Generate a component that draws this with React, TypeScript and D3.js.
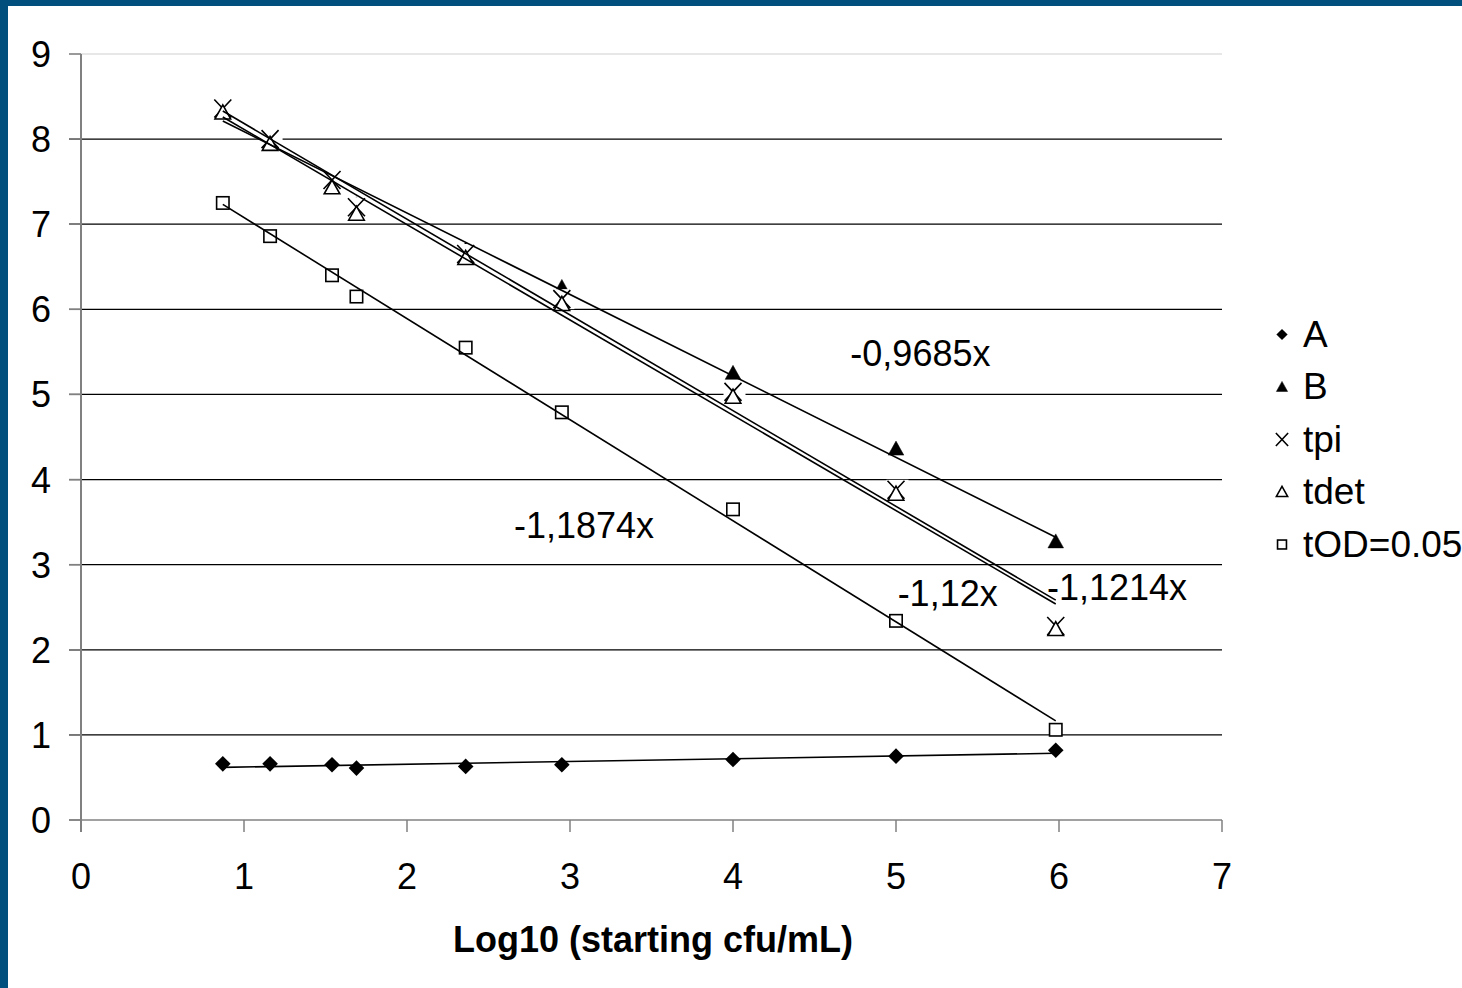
import React from "react";
import * as d3 from "d3";

// values
const logCfu = [0.87, 1.16, 1.54, 1.69, 2.36, 2.95, 4.0, 5.0, 5.98];
const seriesA = [0.66, 0.66, 0.65, 0.61, 0.63, 0.65, 0.71, 0.75, 0.82];
const seriesB = [8.38, 8.01, 7.5, 7.23, 6.7, 6.26, 5.25, 4.36, 3.27];
const seriesTpi = [8.36, 8.0, 7.52, 7.2, 6.65, 6.12, 5.03, 3.88, 2.28];
const seriesTdet = [8.31, 7.94, 7.43, 7.12, 6.6, 6.06, 4.97, 3.83, 2.24];
const seriesTod = [7.25, 6.86, 6.4, 6.15, 5.55, 4.79, 3.65, 2.34, 1.06];

const seriesNames = ["A", "B", "tpi", "tdet", "tOD=0.05"];
const xTicks = [0, 1, 2, 3, 4, 5, 6, 7];
const yTicks = [0, 1, 2, 3, 4, 5, 6, 7, 8, 9];
const slopeLabels = ["-0,9685x", "-1,1874x", "-1,12x", "-1,1214x"];
const slopeLabelAt = [
  [4.72, 5.33],
  [2.656, 3.31],
  [5.01, 2.51],
  [5.926, 2.585],
];
const xTitle = "Log10 (starting cfu/mL)";

const W = 1462;
const H = 988;
const font = "'Liberation Sans', Arial, sans-serif";

// least squares line over the series
const fit = (xs: number[], ys: number[]) => {
  const mx = d3.mean(xs)!;
  const my = d3.mean(ys)!;
  const sxy = d3.sum(xs, (v, i) => (v - mx) * (ys[i] - my));
  const sxx = d3.sum(xs, (v) => (v - mx) * (v - mx));
  const b = sxy / sxx;
  return (v: number) => my + b * (v - mx);
};

// marker k at scale s (1 = plot size)
const marker = (k: number, s: number) => {
  const sw = 1.6;
  if (k === 0) {
    const r = 7.8 * s;
    return <path d={`M0,${-r}L${r},0L0,${r}L${-r},0Z`} fill="#000" />;
  }
  if (k === 1 || k === 3) {
    const w = 7.8 * s;
    return (
      <path d={`M0,${-7.8 * s}L${w},${6.2 * s}L${-w},${6.2 * s}Z`}
        fill={k === 1 ? "#000" : "#fff"} stroke="#000" strokeWidth={k === 1 ? 0.5 : sw} />
    );
  }
  if (k === 2) {
    const a = 8.5 * s;
    const b = 9 * s;
    return (
      <g>
        {s === 1 && <rect x={-9.5} y={-10} width={22} height={20} fill="#fff" />}
        <path d={`M${-a},${-b}L${a},${b}M${-a},${b}L${a},${-b}`} fill="none" stroke="#000" strokeWidth={sw} />
      </g>
    );
  }
  const h = 6.2 * s;
  return <rect x={-h} y={-h} width={2 * h} height={2 * h} fill="#fff" stroke="#000" strokeWidth={sw} />;
};

export default function App() {
  const x = d3.scaleLinear().domain([0, 7]).range([81, 1222]);
  const y = d3.scaleLinear().domain([0, 9]).range([820, 54]);

  const all = [seriesA, seriesB, seriesTpi, seriesTdet, seriesTod];
  const xMin = d3.min(logCfu)!;
  const xMax = d3.max(logCfu)!;

  return (
    <svg width={W} height={H} style={{ position: "absolute", left: 0, top: 0, background: "#fff" }}>
      <rect x={0} y={0} width={W} height={6} fill="#004f7c" />
      <rect x={0} y={0} width={8} height={H} fill="#004f7c" />

      {/* grid */}
      {yTicks.map((t) => (
        <line key={t} x1={69} x2={x(7)} y1={y(t)} y2={y(t)}
          stroke={t === 9 ? "#d0d0d0" : t === 0 ? "#444" : "#000"} strokeWidth={1.2} />
      ))}
      {/* axes */}
      <line x1={x(0)} x2={x(0)} y1={y(9)} y2={y(0) + 12} stroke="#808080" strokeWidth={2} />
      {yTicks.map((t) => (
        <line key={"yt" + t} x1={69} x2={x(0)} y1={y(t)} y2={y(t)} stroke="#808080" strokeWidth={1.5} />
      ))}
      {xTicks.map((t) => (
        <line key={"xt" + t} x1={x(t)} x2={x(t)} y1={y(0)} y2={y(0) + 12} stroke="#808080" strokeWidth={1.5} />
      ))}
      <g fontFamily={font} fontSize={36} fill="#000">
        {yTicks.map((t) => (
          <text key={"yl" + t} x={51} y={y(t) + 13} textAnchor="end">{t}</text>
        ))}
        {xTicks.map((t) => (
          <text key={"xl" + t} x={x(t)} y={889} textAnchor="middle">{t}</text>
        ))}
      </g>
      <text x={653} y={952} textAnchor="middle" fontFamily={font} fontSize={36} fontWeight="bold">
        {xTitle}
      </text>

      {/* markers */}
      {all.map((s, k) => (
        <g key={"s" + k}>
          {s.map((v, i) => (
            <g key={i} transform={`translate(${x(logCfu[i])},${y(v)})`}>{marker(k, 1)}</g>
          ))}
        </g>
      ))}

      {/* trendlines */}
      {all.map((s, k) => {
        const f = fit(logCfu, s);
        return (
          <line key={"tr" + k} x1={x(xMin)} y1={y(f(xMin))} x2={x(xMax)} y2={y(f(xMax))}
            stroke="#000" strokeWidth={1.6} />
        );
      })}

      {/* slope labels */}
      <g fontFamily={font} fontSize={36} fill="#000">
        {slopeLabels.map((l, i) => (
          <text key={l} x={x(slopeLabelAt[i][0])} y={y(slopeLabelAt[i][1])}>{l}</text>
        ))}
      </g>

      {/* legend */}
      <g fontFamily={font} fontSize={37}>
        {seriesNames.map((n, k) => (
          <g key={n} transform={`translate(0,${346.5 + k * 52.5})`}>
            <g transform="translate(1282,-12)">{marker(k, 0.72)}</g>
            <text x={1303} y={0}>{n}</text>
          </g>
        ))}
      </g>
    </svg>
  );
}
